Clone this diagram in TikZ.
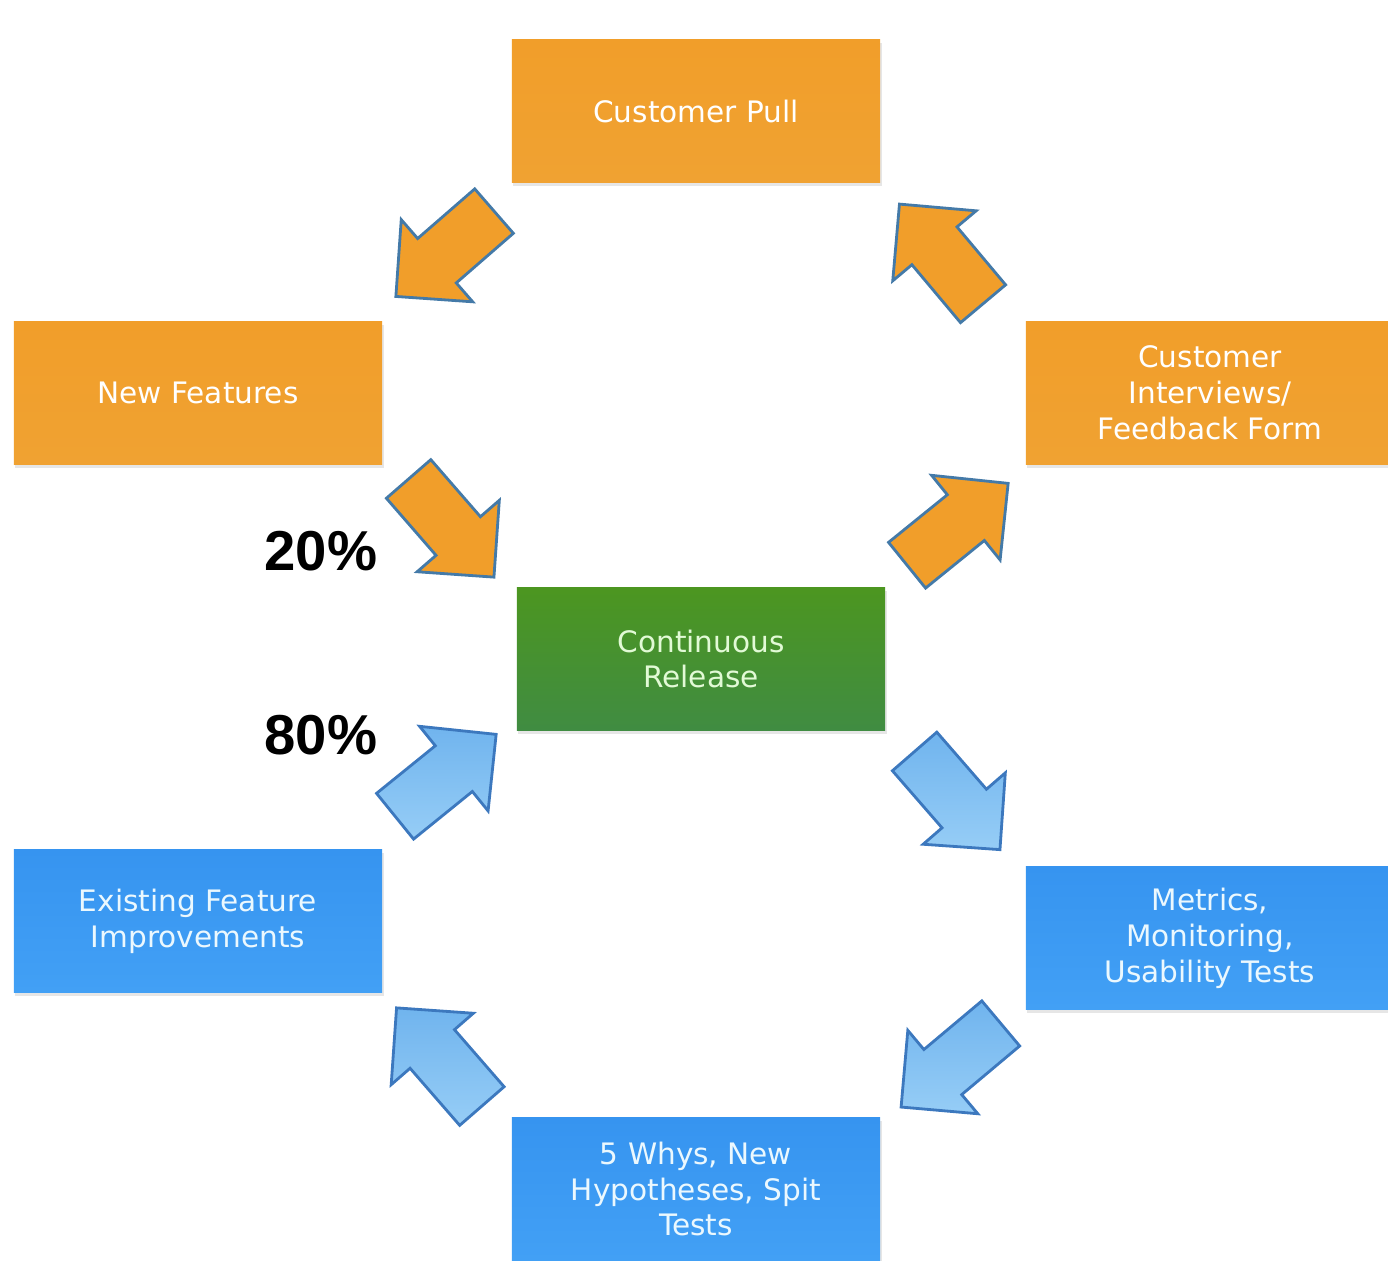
\documentclass[tikz,border=0pt]{standalone}
\usepackage{fontspec}
\setmainfont{DejaVu Sans}
\newfontfamily\pctfont{Liberation Sans}
\usetikzlibrary{shapes.arrows,calc,shadows}

\definecolor{pullorange}{RGB}{241,158,42}
\definecolor{pullorangelow}{RGB}{240,162,50}
\definecolor{relgreen}{RGB}{76,150,32}
\definecolor{relgreenlow}{RGB}{64,140,66}
\definecolor{learnblue}{RGB}{54,148,240}
\definecolor{learnbluelow}{RGB}{66,160,245}
\definecolor{arrowblue}{RGB}{112,180,238}
\definecolor{arrowbluelow}{RGB}{150,205,246}
\definecolor{edgeslate}{RGB}{68,122,168}
\definecolor{edgeblue}{RGB}{60,120,190}
\definecolor{paletext}{RGB}{226,250,214}

\begin{document}
\begin{tikzpicture}[x=0.01cm, y=-0.01cm,
    stage/.style={rectangle, minimum width=3.68cm, minimum height=1.43cm, inner sep=0pt,
        align=center, font=\fontsize{8.4}{10.2}\selectfont,
        drop shadow={opacity=0.2, shadow xshift=0.4pt, shadow yshift=-0.9pt}},
    build/.style={stage, top color=pullorange, bottom color=pullorangelow, text=white},
    learn/.style={stage, top color=learnblue, bottom color=learnbluelow, text=white!92!cyan},
    release/.style={stage, top color=relgreen, bottom color=relgreenlow, text=paletext},
    flow/.style={single arrow, line width=0.8pt, inner xsep=0pt, inner ysep=0.28cm,
        single arrow head extend=0.25cm, single arrow tip angle=90, single arrow head indent=0pt,
        minimum height=1.30cm, minimum width=1.08cm},
    heading/.style={rotate=#1, xshift=-0.12cm},
    buildarrow/.style={flow, draw=edgeslate, fill=pullorange},
    learnarrow/.style={flow, draw=edgeblue, top color=arrowblue, bottom color=arrowbluelow},
    pct/.style={font=\pctfont\bfseries\fontsize{16}{18}\selectfont}]

    \useasboundingbox (0,0) rectangle (1388,1261);

    \node[build] (pull) at (696,111) {Customer Pull};
    \node[build] (newf) at (198,393) {New Features};
    \node[build] (talk) at (1210,393) {Customer\\Interviews/\\Feedback Form};
    \node[release] (rel) at (701,659) {Continuous\\Release};
    \node[learn] (impr) at (198,921) {Existing Feature\\Improvements};
    \node[learn] (metr) at (1210,938) {Metrics,\\Monitoring,\\Usability Tests};
    \node[learn] (why) at (696,1189) {5 Whys, New\\Hypotheses, Spit\\Tests};

    \node[pct] (p20) at (321,551) {20\%};
    \node[pct] (p80) at (321,735) {80\%};

    % build loop
    \node[buildarrow, heading=221] (a1) at ($(pull)!0.5!(newf)$) {};
    \node[buildarrow, heading=-49] (a2) at ($(newf)!0.5!(rel)$) {};
    \node[buildarrow, heading=39] (a3) at ($(rel)!0.5!(talk)$) {};
    \node[buildarrow, heading=130] (a4) at ($(talk)!0.5!(pull)+(-10,4)$) {};
    % learn loop
    \node[learnarrow, heading=-49] (a5) at ($(rel)!0.5!(metr)$) {};
    \node[learnarrow, heading=220] (a6) at ($(metr)!0.5!(why)$) {};
    \node[learnarrow, heading=131] (a7) at ($(why)!0.5!(impr)+(-6,4)$) {};
    \node[learnarrow, heading=39] (a8) at ($(impr)!0.5!(rel)+(-6,-13)$) {};
\end{tikzpicture}
\end{document}
